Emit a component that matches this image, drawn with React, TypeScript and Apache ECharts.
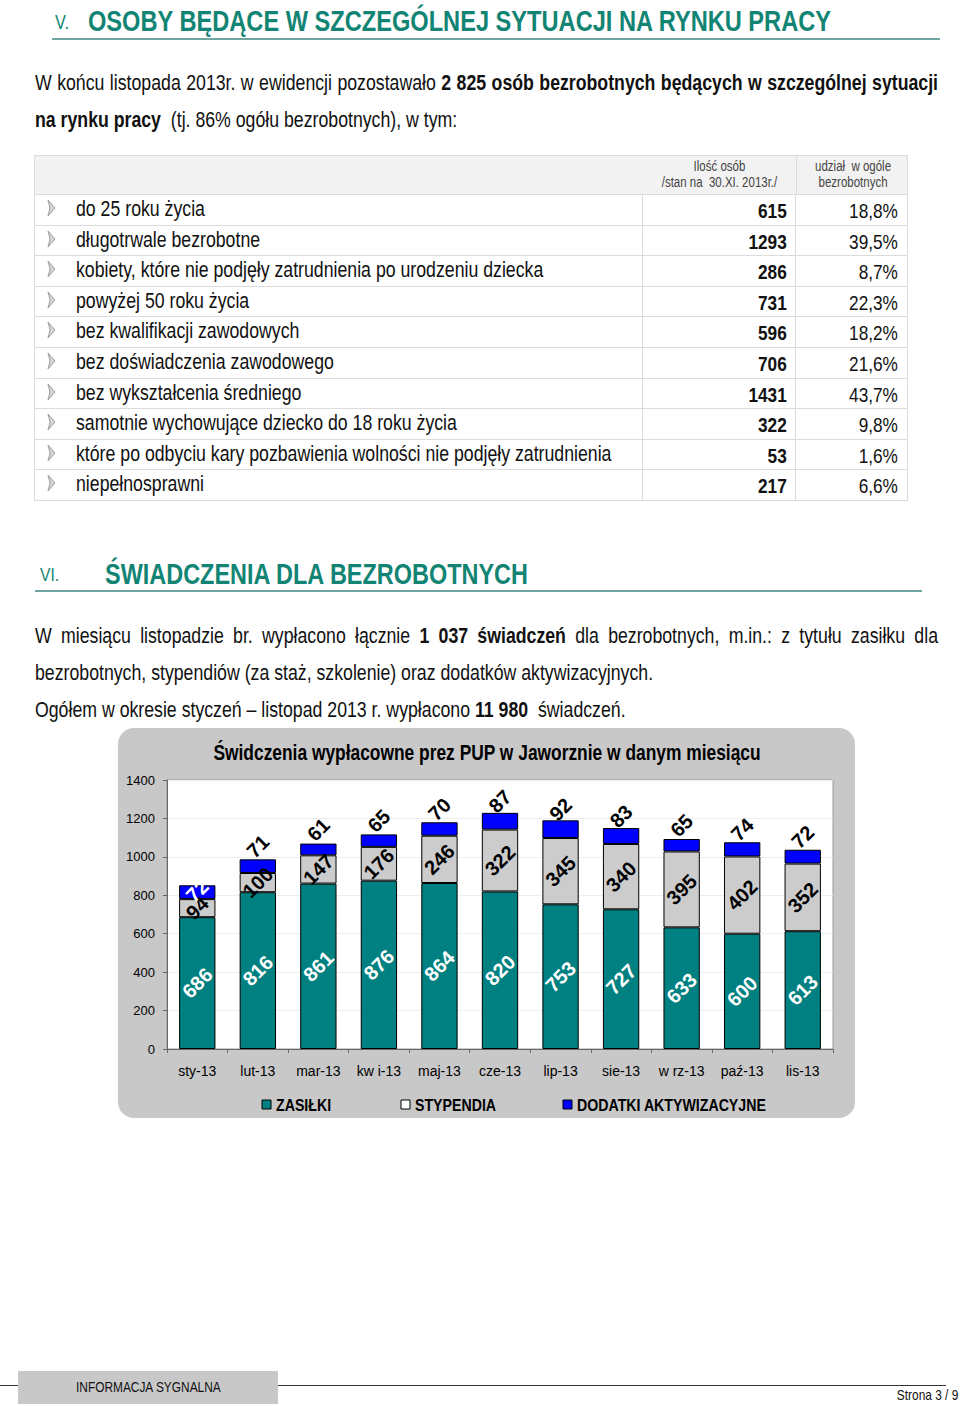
import React, { useEffect, useRef } from "react";
import * as echarts from "echarts";

const SANS = "'Liberation Sans', Arial, sans-serif";
const TEAL = "#128474";
const S = 0.82; // horizontal squeeze to mimic Arial Narrow

// ---- chart data ----
const months = ["sty-13", "lut-13", "mar-13", "kw i-13", "maj-13", "cze-13", "lip-13", "sie-13", "w rz-13", "paź-13", "lis-13"];
const zasilki = [686, 816, 861, 876, 864, 820, 753, 727, 633, 600, 613];
const stypendia = [94, 100, 147, 176, 246, 322, 345, 340, 395, 402, 352];
const dodatki = [72, 71, 61, 65, 70, 87, 92, 83, 65, 74, 72];
const seriesNames = ["ZASIŁKI", "STYPENDIA", "DODATKI AKTYWIZACYJNE"];
const seriesColors = ["#008080", "#cccccc", "#0000ff"];
const legendIconColors = ["#008080", "#ffffff", "#0000ff"];
const chartTitle = "Świdczenia wypłacowne prez PUP w Jaworznie w danym miesiącu";

// ---- table data ----
const tableLabels = [
  "do 25 roku życia",
  "długotrwale bezrobotne",
  "kobiety, które nie podjęły zatrudnienia po urodzeniu dziecka",
  "powyżej 50 roku życia",
  "bez kwalifikacji zawodowych",
  "bez doświadczenia zawodowego",
  "bez wykształcenia średniego",
  "samotnie wychowujące dziecko do 18 roku życia",
  "które po odbyciu kary pozbawienia wolności nie podjęły zatrudnienia",
  "niepełnosprawni",
];
const tableCounts = [615, 1293, 286, 731, 596, 706, 1431, 322, 53, 217];
const tableShares = ["18,8%", "39,5%", "8,7%", "22,3%", "18,2%", "21,6%", "43,7%", "9,8%", "1,6%", "6,6%"];

type TProps = {
  x: number;
  y: number;
  w?: number;
  align?: "left" | "right" | "center" | "justify";
  size: number;
  bold?: boolean;
  color?: string;
  lh?: number;
  children: React.ReactNode;
};

// Squeezed text block: (x, y) is the anchor (left/right/center edge, top)
function T({ x, y, w = 900, align = "left", size, bold, color = "#111", lh, children }: TProps) {
  const wide = w / S;
  let left = x;
  let origin = "left top";
  if (align === "right") {
    left = x - wide;
    origin = "right top";
  } else if (align === "center") {
    left = x - wide / 2;
    origin = "center top";
  }
  return (
    <div
      style={{
        position: "absolute",
        left,
        top: y,
        width: wide,
        fontFamily: SANS,
        fontSize: size,
        fontWeight: bold ? "bold" : "normal",
        color,
        lineHeight: `${lh ?? Math.round(size * 1.2)}px`,
        textAlign: align,
        textAlignLast: (align === "justify" ? "justify" : align) as any,
        whiteSpace: align === "justify" ? "normal" : "nowrap",
        transform: `scaleX(${S})`,
        transformOrigin: origin,
      }}
    >
      {children}
    </div>
  );
}

function Chart() {
  const ref = useRef<HTMLDivElement>(null);
  useEffect(() => {
    if (!ref.current) return;
    const chart = echarts.init(ref.current, null, { renderer: "svg" });
    const lbl = { show: true, rotate: 45, fontFamily: SANS, fontWeight: "bold" as const, fontSize: 20 };
    const legendIconX = [144, 283, 445];
    const legendGraphics: any[] = [];
    seriesNames.forEach((n, i) => {
      legendGraphics.push({
        type: "rect",
        shape: { x: legendIconX[i], y: 372, width: 9, height: 9 },
        style: { fill: legendIconColors[i], stroke: "#000", lineWidth: 1 },
        silent: true,
      });
      legendGraphics.push({
        type: "text",
        x: legendIconX[i] + 14,
        y: 377,
        scaleX: S,
        style: {
          text: n,
          fill: "#000",
          font: `bold 17.3px ${SANS}`,
          textAlign: "left",
          textVerticalAlign: "middle",
        },
        silent: true,
      });
    });
    chart.setOption({
      animation: false,
      backgroundColor: "transparent",
      graphic: [
        {
          type: "text",
          x: 369,
          y: 24,
          scaleX: S,
          style: {
            text: chartTitle,
            fill: "#000",
            font: `bold 21.2px ${SANS}`,
            textAlign: "center",
            textVerticalAlign: "middle",
          },
          silent: true,
        },
        ...legendGraphics,
      ],
      grid: {
        left: 49,
        right: 22,
        top: 52,
        bottom: 69,
        show: true,
        backgroundColor: "#ffffff",
        borderColor: "#9a9a9a",
        borderWidth: 1,
      },
      xAxis: {
        type: "category",
        data: months,
        axisLine: { lineStyle: { color: "#666" } },
        axisTick: { show: true, length: 4, lineStyle: { color: "#666" } },
        axisLabel: { margin: 15, fontSize: 14, color: "#000", fontFamily: SANS },
      },
      yAxis: {
        type: "value",
        min: 0,
        max: 1400,
        interval: 200,
        axisLine: { show: true, lineStyle: { color: "#666" } },
        axisTick: { show: true, length: 4, lineStyle: { color: "#666" } },
        axisLabel: { fontSize: 13, color: "#000", margin: 12, fontFamily: SANS, formatter: (v: number) => String(v) },
        splitLine: { lineStyle: { color: "#eeeeee" } },
      },
      series: [
        {
          name: seriesNames[0],
          type: "bar",
          stack: "s",
          barWidth: "60%",
          data: zasilki,
          itemStyle: { color: seriesColors[0], borderColor: "#000", borderWidth: 1 },
          label: { ...lbl, position: "inside", color: "#fff" },
        },
        {
          name: seriesNames[1],
          type: "bar",
          stack: "s",
          data: stypendia,
          itemStyle: { color: seriesColors[1], borderColor: "#000", borderWidth: 1 },
          label: { ...lbl, position: "inside", color: "#000" },
        },
        {
          name: seriesNames[2],
          type: "bar",
          stack: "s",
          data: dodatki.map((v, i) => (i === 0 ? { value: v, label: { color: "#fff", offset: [1, -1] } } : v)),
          itemStyle: { color: seriesColors[2], borderColor: "#000", borderWidth: 1 },
          label: { ...lbl, position: "inside", color: "#000", offset: [14, -14] },
        },
      ],
    });
    return () => chart.dispose();
  }, []);
  return (
    <div
      style={{
        position: "absolute",
        left: 118,
        top: 728,
        width: 737,
        height: 390,
        background: "#c8c8c8",
        borderRadius: 16,
      }}
    >
      <div ref={ref} style={{ width: 737, height: 390 }} />
    </div>
  );
}

function Chevron({ top }: { top: number }) {
  return (
    <svg style={{ position: "absolute", left: 47, top }} width="9" height="18" viewBox="0 0 9 18">
      <polygon points="1,1 8,9 1,17 3,9" fill="#d4d4d4" stroke="#a0a0a0" strokeWidth="1" />
    </svg>
  );
}

export default function App() {
  const rowTop = 195;
  const rowH = 30.6;
  const line = "#dcdcdc";
  const fs = 21.6;
  return (
    <div style={{ position: "absolute", left: 0, top: 0, width: 960, height: 1406, background: "#fff", overflow: "hidden" }}>
      {/* Section V title */}
      <T x={55} y={9} size={20} color={TEAL} lh={26}>V.</T>
      <T x={88} y={4} size={28.8} bold color={TEAL} lh={34}>OSOBY BĘDĄCE W SZCZEGÓLNEJ SYTUACJI NA RYNKU PRACY</T>
      <div style={{ position: "absolute", left: 52, top: 38, width: 888, height: 2, background: "#6ea5a0" }} />

      <T x={35} y={70} w={903} align="justify" size={fs} lh={26}>
        W końcu listopada 2013r. w ewidencji pozostawało <b>2 825 osób bezrobotnych będących w szczególnej sytuacji</b>
      </T>
      <T x={35} y={107} size={fs} lh={26}>
        <b>na rynku pracy</b>&nbsp; (tj. 86% ogółu bezrobotnych), w tym:
      </T>

      {/* Table header */}
      <div style={{ position: "absolute", left: 34, top: 155, width: 872, height: 38, background: "#f2f2f2", border: `1px solid ${line}` }} />
      <div style={{ position: "absolute", left: 796, top: 155, width: 1, height: 40, background: line }} />
      <T x={719} y={158} w={150} align="center" size={14} color="#444" lh={16}>
        Ilość osób
        <br />
        /stan na&nbsp; 30.XI. 2013r./
      </T>
      <T x={853} y={158} w={110} align="center" size={14} color="#444" lh={16}>
        udział&nbsp; w ogóle
        <br />
        bezrobotnych
      </T>

      {/* Table rows */}
      {tableLabels.map((label, i) => {
        const top = rowTop + i * rowH;
        return (
          <React.Fragment key={i}>
            <div style={{ position: "absolute", left: 34, top, width: 607, height: rowH - 1, border: `1px solid ${line}`, borderTop: "none" }} />
            <div style={{ position: "absolute", left: 642, top, width: 153, height: rowH - 1, border: `1px solid ${line}`, borderTop: "none", borderLeft: "none" }} />
            <div style={{ position: "absolute", left: 796, top, width: 111, height: rowH - 1, border: `1px solid ${line}`, borderTop: "none", borderLeft: "none" }} />
            <Chevron top={top + 4} />
            <T x={76} y={top} size={fs} lh={rowH - 2}>{label}</T>
            <T x={787} y={top + 1} w={140} align="right" size={21} bold lh={rowH}>{tableCounts[i]}</T>
            <T x={898} y={top + 1} w={100} align="right" size={21} lh={rowH}>{tableShares[i]}</T>
          </React.Fragment>
        );
      })}

      {/* Section VI title */}
      <T x={40} y={563} size={19} color={TEAL} lh={24}>VI.</T>
      <T x={105} y={557} size={28.6} bold color={TEAL} lh={34}>ŚWIADCZENIA DLA BEZROBOTNYCH</T>
      <div style={{ position: "absolute", left: 35, top: 590, width: 887, height: 2, background: "#6ea5a0" }} />

      <T x={35} y={623} w={903} align="justify" size={fs} lh={26}>
        W miesiącu listopadzie br. wypłacono łącznie <b>1 037 świadczeń</b> dla bezrobotnych, m.in.: z tytułu zasiłku dla
      </T>
      <T x={35} y={660} size={fs} lh={26}>
        bezrobotnych, stypendiów (za staż, szkolenie) oraz dodatków aktywizacyjnych.
      </T>
      <T x={35} y={697} size={fs} lh={26}>
        Ogółem w okresie styczeń – listopad 2013 r. wypłacono <b>11 980</b>&nbsp; świadczeń.
      </T>

      <Chart />

      {/* Footer */}
      <div style={{ position: "absolute", left: 0, top: 1385, width: 946, height: 1, background: "#333" }} />
      <div style={{ position: "absolute", left: 18, top: 1371, width: 260, height: 33, background: "#c8c8c8" }} />
      <T x={76} y={1378} size={14.5} lh={18}>INFORMACJA SYGNALNA</T>
      <T x={958} y={1387} w={120} align="right" size={14.5} lh={16}>Strona 3 / 9</T>
    </div>
  );
}
